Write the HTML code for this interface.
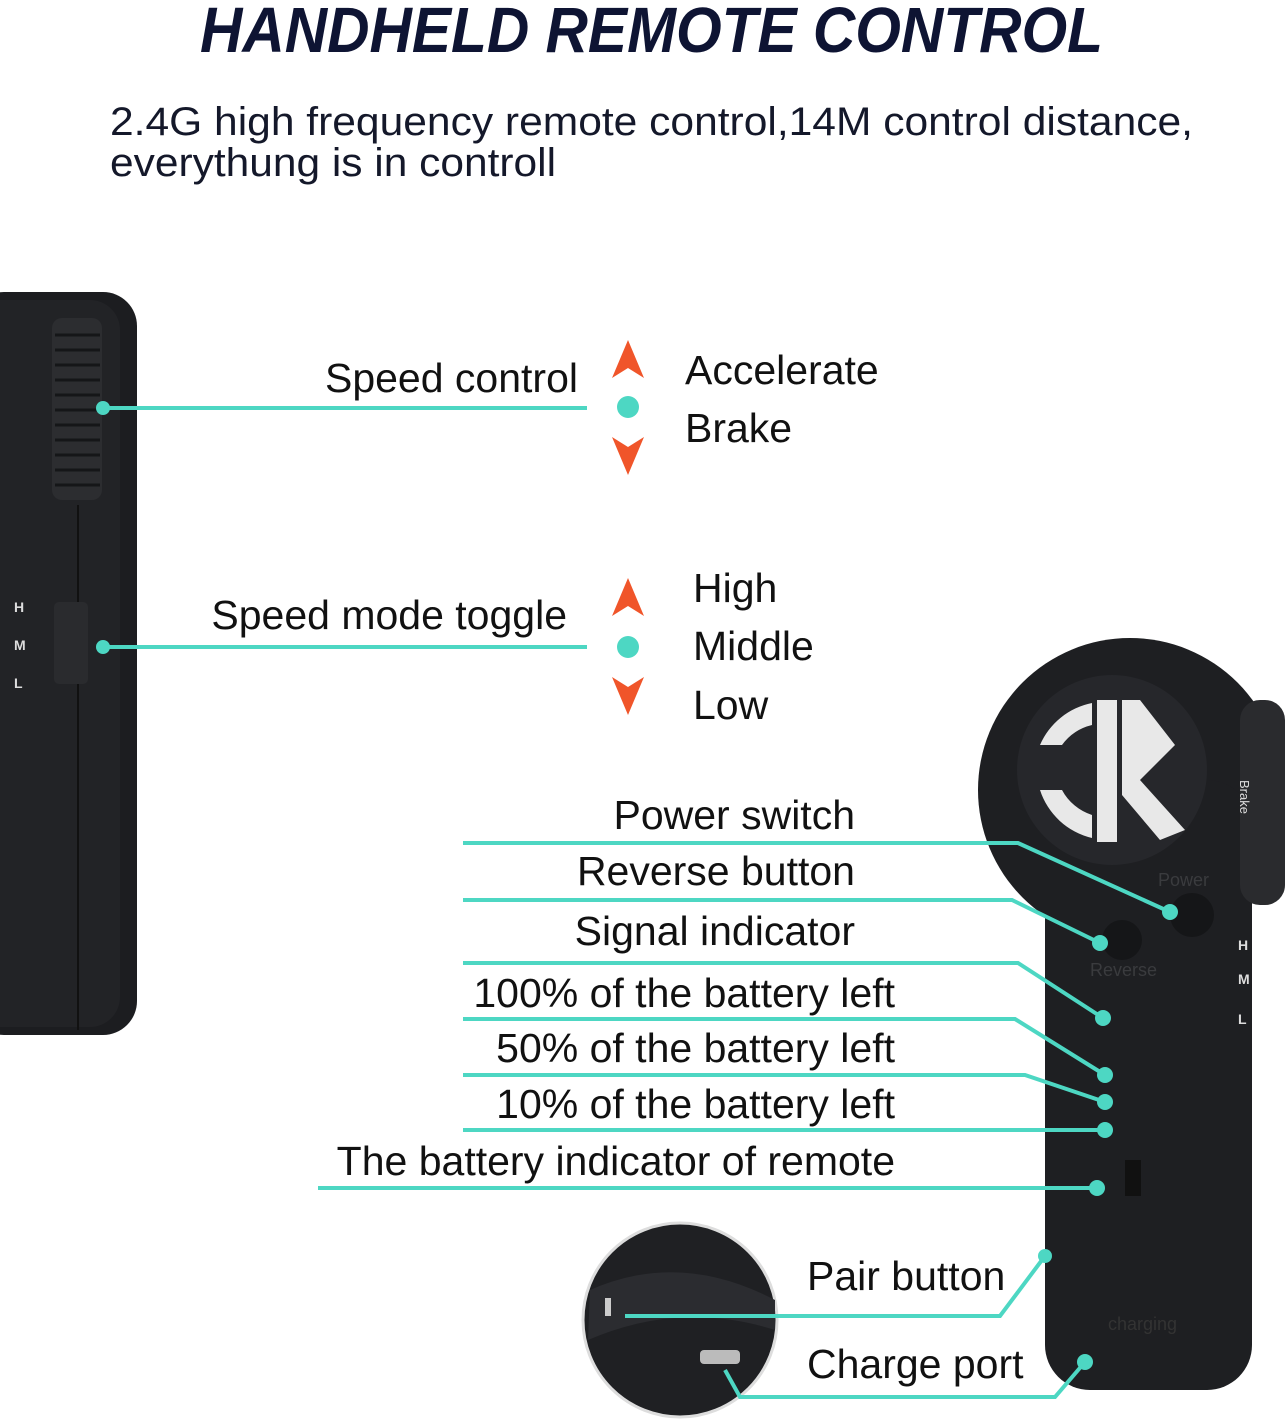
<!DOCTYPE html>
<html><head><meta charset="utf-8"><style>
html,body{margin:0;padding:0;background:#fff;}
svg{display:block;}
text{font-family:"Liberation Sans",Arial,sans-serif;}
</style></head><body>
<svg width="1286" height="1422" viewBox="0 0 1286 1422" xmlns="http://www.w3.org/2000/svg">
<rect width="1286" height="1422" fill="#fff"/>
<text x="200" y="52" font-size="64" font-weight="bold" font-style="italic" fill="#0e1433" textLength="903" lengthAdjust="spacingAndGlyphs">HANDHELD REMOTE CONTROL</text>
<text x="110" y="135" font-size="40" fill="#14182a" textLength="1083" lengthAdjust="spacingAndGlyphs">2.4G high frequency remote control,14M control distance,</text>
<text x="110" y="176" font-size="40" fill="#14182a" textLength="446" lengthAdjust="spacingAndGlyphs">everythung is in controll</text>

<!-- left remote -->
<rect x="-30" y="292" width="167" height="743" rx="34" fill="#1c1d20"/>
<rect x="-30" y="300" width="150" height="727" rx="30" fill="#222326"/>
<rect x="52" y="318" width="50" height="182" rx="10" fill="#2c2d30"/>
<g stroke="#151618" stroke-width="3">
<line x1="55" y1="335" x2="100" y2="335"/><line x1="55" y1="350" x2="100" y2="350"/><line x1="55" y1="365" x2="100" y2="365"/><line x1="55" y1="380" x2="100" y2="380"/><line x1="55" y1="395" x2="100" y2="395"/><line x1="55" y1="410" x2="100" y2="410"/><line x1="55" y1="425" x2="100" y2="425"/><line x1="55" y1="440" x2="100" y2="440"/><line x1="55" y1="455" x2="100" y2="455"/><line x1="55" y1="470" x2="100" y2="470"/><line x1="55" y1="485" x2="100" y2="485"/>
</g>
<line x1="78" y1="505" x2="78" y2="1030" stroke="#111" stroke-width="2"/>
<rect x="54" y="602" width="34" height="82" rx="5" fill="#2a2b2e"/>
<text x="15" y="490" font-size="14" fill="#ddd" transform="rotate(90 15 430)">Brake</text>
<text x="14" y="612" font-size="14" font-weight="bold" fill="#ddd">H</text>
<text x="14" y="650" font-size="14" font-weight="bold" fill="#ddd">M</text>
<text x="14" y="688" font-size="14" font-weight="bold" fill="#ddd">L</text>

<!-- right remote -->
<circle cx="1130" cy="790" r="152" fill="#1e1f22"/>
<rect x="1045" y="780" width="207" height="610" rx="45" fill="#1e1f22"/>
<rect x="1240" y="700" width="45" height="205" rx="20" fill="#2a2b2e"/>
<circle cx="1112" cy="770" r="95" fill="#26272b"/>
<g fill="#e8e8e8">
<path d="M1040 745 A72 72 0 0 1 1092 703 L1092 725 A52 52 0 0 0 1062 745 Z"/>
<path d="M1040 790 A72 72 0 0 0 1092 838 L1092 815 A52 52 0 0 1 1062 790 Z"/>
<rect x="1097" y="700" width="20" height="142"/>
<path d="M1122 700 L1140 700 L1175 745 L1140 780 L1185 830 L1160 840 L1122 795 Z"/>
</g>
<circle cx="1192" cy="915" r="22" fill="#151618"/>
<circle cx="1122" cy="940" r="20" fill="#151618"/>
<text x="1158" y="886" font-size="18" fill="#3a3b3e">Power</text>
<text x="1090" y="976" font-size="18" fill="#3a3b3e">Reverse</text>
<text x="1238" y="950" font-size="14" font-weight="bold" fill="#ddd">H</text>
<text x="1238" y="984" font-size="14" font-weight="bold" fill="#ddd">M</text>
<text x="1238" y="1024" font-size="14" font-weight="bold" fill="#ddd">L</text>
<text x="1240" y="780" font-size="13" fill="#ddd" transform="rotate(90 1240 780)">Brake</text>
<text x="1108" y="1330" font-size="18" fill="#333">charging</text>
<rect x="1125" y="1160" width="16" height="36" fill="#111"/>

<!-- inset circle -->
<circle cx="680" cy="1320" r="97" fill="#1f2023" stroke="#ddd" stroke-width="3"/>
<path d="M590 1290 Q680 1250 775 1300 L775 1330 Q680 1300 588 1340 Z" fill="#2b2c30"/>
<rect x="700" y="1350" width="40" height="14" rx="4" fill="#bbb"/>
<rect x="605" y="1298" width="6" height="18" fill="#ccc"/>

<!-- connectors -->
<g stroke="#4dd7c3" stroke-width="4" fill="none">
<line x1="103" y1="408" x2="587" y2="408"/>
<line x1="103" y1="647" x2="587" y2="647"/>
<polyline points="463,843 1018,843 1170,912"/>
<polyline points="463,900 1012,900 1100,943"/>
<polyline points="463,963 1018,963 1103,1018"/>
<polyline points="463,1019 1015,1019 1105,1075"/>
<polyline points="463,1075 1025,1075 1105,1102"/>
<polyline points="463,1130 1105,1130"/>
<line x1="318" y1="1188" x2="1097" y2="1188"/>
<polyline points="625,1316 1000,1316 1045,1256"/>
<polyline points="725,1370 740,1397 1055,1397 1085,1362"/>
</g>
<g fill="#4dd7c3">
<circle cx="103" cy="408" r="7"/><circle cx="103" cy="647" r="7"/>
<circle cx="1170" cy="912" r="8"/><circle cx="1100" cy="943" r="8"/><circle cx="1103" cy="1018" r="8"/>
<circle cx="1105" cy="1075" r="8"/><circle cx="1105" cy="1102" r="8"/><circle cx="1105" cy="1130" r="8"/><circle cx="1097" cy="1188" r="8"/>
<circle cx="1045" cy="1256" r="7"/><circle cx="1085" cy="1362" r="8"/>
<circle cx="628" cy="407" r="11"/><circle cx="628" cy="647" r="11"/>
</g>
<g fill="#f0552a">
<path d="M628 340 L644 378 L628 368 L612 378 Z"/>
<path d="M628 475 L644 437 L628 447 L612 437 Z"/>
<path d="M628 578 L644 616 L628 606 L612 616 Z"/>
<path d="M628 715 L644 677 L628 687 L612 677 Z"/>
</g>

<g font-size="41" fill="#111">
<text x="578" y="392" text-anchor="end">Speed control</text>
<text x="685" y="384">Accelerate</text>
<text x="685" y="442">Brake</text>
<text x="567" y="629" text-anchor="end">Speed mode toggle</text>
<text x="693" y="602">High</text>
<text x="693" y="660">Middle</text>
<text x="693" y="719">Low</text>
<text x="855" y="829" text-anchor="end">Power switch</text>
<text x="855" y="885" text-anchor="end">Reverse button</text>
<text x="855" y="945" text-anchor="end">Signal indicator</text>
<text x="895" y="1007" text-anchor="end">100% of the battery left</text>
<text x="895" y="1062" text-anchor="end">50% of the battery left</text>
<text x="895" y="1118" text-anchor="end">10% of the battery left</text>
<text x="895" y="1175" text-anchor="end">The battery indicator of remote</text>
<text x="807" y="1290">Pair button</text>
<text x="807" y="1378">Charge port</text>
</g>
</svg>
</body></html>
